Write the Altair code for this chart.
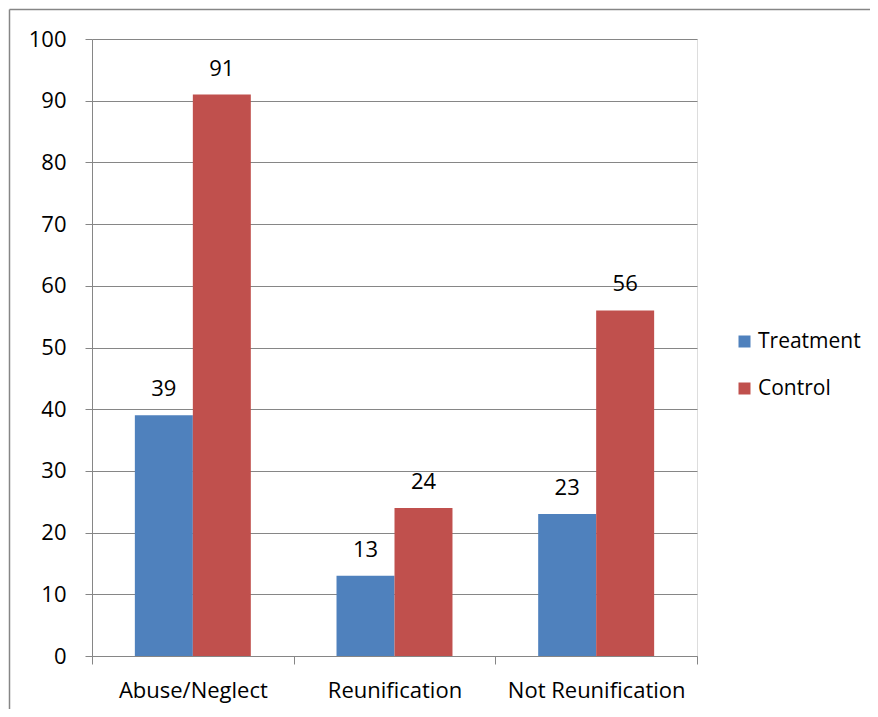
import altair as alt
import pandas as pd

categories = ["Abuse/Neglect", "Reunification", "Not Reunification"]
series = ["Treatment", "Control"]
treatment = [39, 13, 23]
control = [91, 24, 56]
y_ticks = [0, 10, 20, 30, 40, 50, 60, 70, 80, 90, 100]
colors = ["#4F81BD", "#C0504D"]

rows = []
for c, t, k in zip(categories, treatment, control):
    rows.append({"category": c, "group": "Treatment", "value": t})
    rows.append({"category": c, "group": "Control", "value": k})
df = pd.DataFrame(rows)

FONT = "Open Sans"
FS = 22
GRAY = "#868686"

x_enc = alt.X(
    "category:N",
    sort=categories,
    scale=alt.Scale(paddingInner=0, paddingOuter=0),
    axis=alt.Axis(
        title=None,
        labelAngle=0,
        tickBand="extent",
        tickSize=8,
        tickColor=GRAY,
        domainColor=GRAY,
        labelPadding=16,
        labelFontSize=FS,
        labelFont=FONT,
        labelColor="#000000",
        grid=False,
    ),
)
xoff = alt.XOffset("group:N", sort=series, scale=alt.Scale(paddingInner=0, paddingOuter=0.739))
y_enc = alt.Y(
    "value:Q",
    scale=alt.Scale(domain=[0, 100]),
    axis=alt.Axis(
        title=None,
        values=y_ticks,
        tickSize=7,
        tickColor=GRAY,
        domainColor=GRAY,
        gridColor=GRAY,
        gridOpacity=1,
        labelPadding=19,
        labelFontSize=FS,
        labelFont=FONT,
        labelColor="#000000",
    ),
)

bars = alt.Chart(df).mark_bar().encode(
    x=x_enc,
    xOffset=xoff,
    y=y_enc,
    color=alt.Color(
        "group:N",
        sort=series,
        scale=alt.Scale(domain=series, range=colors),
        legend=alt.Legend(
            title=None,
            orient="none",
            legendX=642,
            legendY=292,
            symbolType="square",
            symbolSize=144,
            symbolStrokeWidth=0,
            labelFontSize=21,
            labelFont=FONT,
            labelColor="#000000",
            labelOffset=3,
            rowPadding=25,
            padding=0,
        ),
    ),
)

labels = alt.Chart(df).mark_text(
    baseline="alphabetic", dy=-19, fontSize=FS, font=FONT, color="#000000"
).encode(
    x=alt.X("category:N", sort=categories),
    xOffset=xoff,
    y="value:Q",
    text="value:Q",
)

frame_data = pd.DataFrame({"a": [0]})
frame_top = alt.Chart(frame_data).mark_rule(stroke=GRAY, strokeWidth=1.5).encode(
    x=alt.value(-82.5), x2=alt.value(1000), y=alt.value(-29.5)
)
frame_left = alt.Chart(frame_data).mark_rule(stroke=GRAY, strokeWidth=1.5).encode(
    x=alt.value(-82.5), y=alt.value(-29.5), y2=alt.value(1000)
)

chart = alt.layer(frame_top, frame_left, bars, labels).properties(
    width=605,
    height=617,
    autosize=alt.AutoSizeParams(type="none"),
    padding={"left": 84, "top": 31, "right": 173, "bottom": 53},
).configure_view(stroke=None).configure(background="white")

chart.save("out.html", embed_options={"renderer": "svg", "actions": False})
